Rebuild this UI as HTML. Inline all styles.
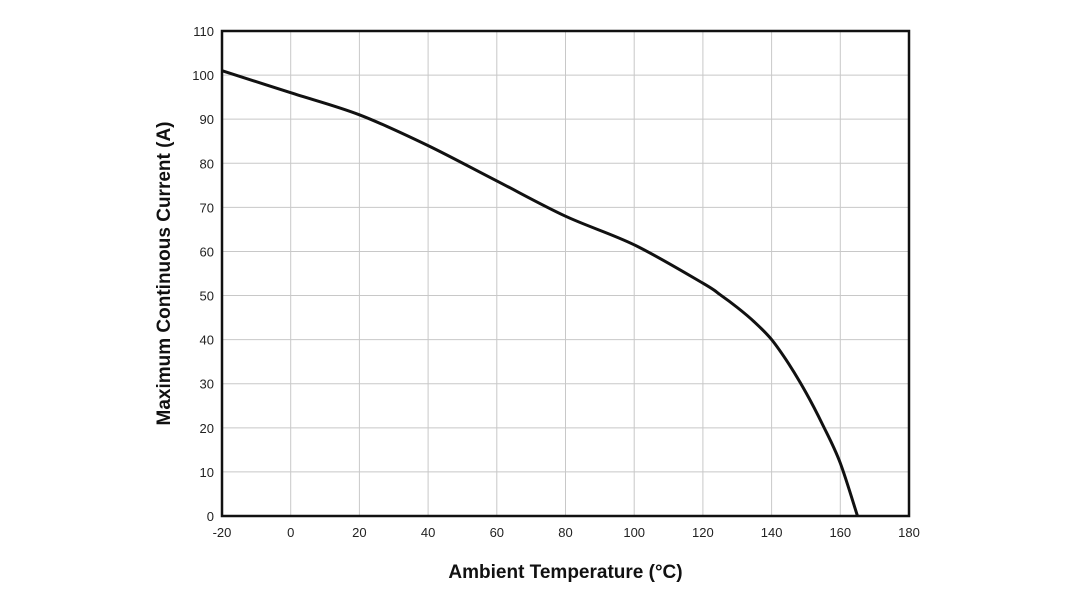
<!DOCTYPE html>
<html><head><meta charset="utf-8"><style>
html,body{margin:0;padding:0;background:#fff;}
svg{display:block;font-family:"Liberation Sans",sans-serif;}
</style></head><body>
<svg id="chart" width="1080" height="607"></svg>
<script>
const xTicks=[-20,0,20,40,60,80,100,120,140,160,180];
const yTicks=[0,10,20,30,40,50,60,70,80,90,100,110];
const tempValues=[-20,0,20,40,60,80,100,120,125,130,135,140,145,150,155,160,165];
const currentValues=[101,96,91,84,76,68,61.5,52.8,50.2,47.3,44,40,34.5,28,20.5,12,0];
const L=222,R=909,T=31,B=516;
const sx=v=>L+(v+20)/200*(R-L);
const sy=v=>B-v/110*(B-T);
const svg=document.getElementById('chart');
const NS='http://www.w3.org/2000/svg';
function mk(tag,attrs,parent){const e=document.createElementNS(NS,tag);for(const k in attrs)e.setAttribute(k,attrs[k]);(parent||svg).appendChild(e);return e;}
const grid=mk('g',{});


xTicks.forEach(t=>{
  const l=mk('line',{x1:sx(t),x2:sx(t),y1:T,y2:B,stroke:'#c8c8c8','stroke-width':1},grid);
  
  
  const tx=mk('text',{x:sx(t),y:B+21,'text-anchor':'middle','font-size':13,fill:'#222'});
  tx.textContent=t;
  
  
});
yTicks.forEach(t=>{
  const l=mk('line',{x1:L,x2:R,y1:sy(t),y2:sy(t),stroke:'#c8c8c8','stroke-width':1},grid);
  
  
  const tx=mk('text',{x:L-8,y:sy(t)+5,'text-anchor':'end','font-size':13,fill:'#222'});
  tx.textContent=t;
  
  
});
const frame=mk('rect',{x:L,y:T,width:R-L,height:B-T,fill:'none',stroke:'#111','stroke-width':2.5});


const pts=tempValues.map((v,i)=>[sx(v),sy(currentValues[i])]);
let d='M'+pts[0][0].toFixed(1)+','+pts[0][1].toFixed(1);
for(let i=0;i<pts.length-1;i++){
  const p0=pts[i-1]||pts[i],p1=pts[i],p2=pts[i+1],p3=pts[i+2]||pts[i+1];
  const c1=[p1[0]+(p2[0]-p0[0])/6,p1[1]+(p2[1]-p0[1])/6];
  const c2=[p2[0]-(p3[0]-p1[0])/6,p2[1]-(p3[1]-p1[1])/6];
  d+=' C'+c1.map(n=>n.toFixed(1)).join(',')+' '+c2.map(n=>n.toFixed(1)).join(',')+' '+p2[0].toFixed(1)+','+p2[1].toFixed(1);
}
const line=mk('path',{d:d,fill:'none',stroke:'#111','stroke-width':3,'stroke-linejoin':'round'});


const xt=mk('text',{x:(L+R)/2,y:578,'text-anchor':'middle','font-size':19,'font-weight':'bold',fill:'#111'});
xt.textContent='Ambient Temperature (°C)';


const yt=mk('text',{x:0,y:0,'text-anchor':'middle','font-size':19,'font-weight':'bold',fill:'#111',transform:'translate(170,'+((T+B)/2)+') rotate(-90)'});
yt.textContent='Maximum Continuous Current (A)';


</script>
</body></html>
